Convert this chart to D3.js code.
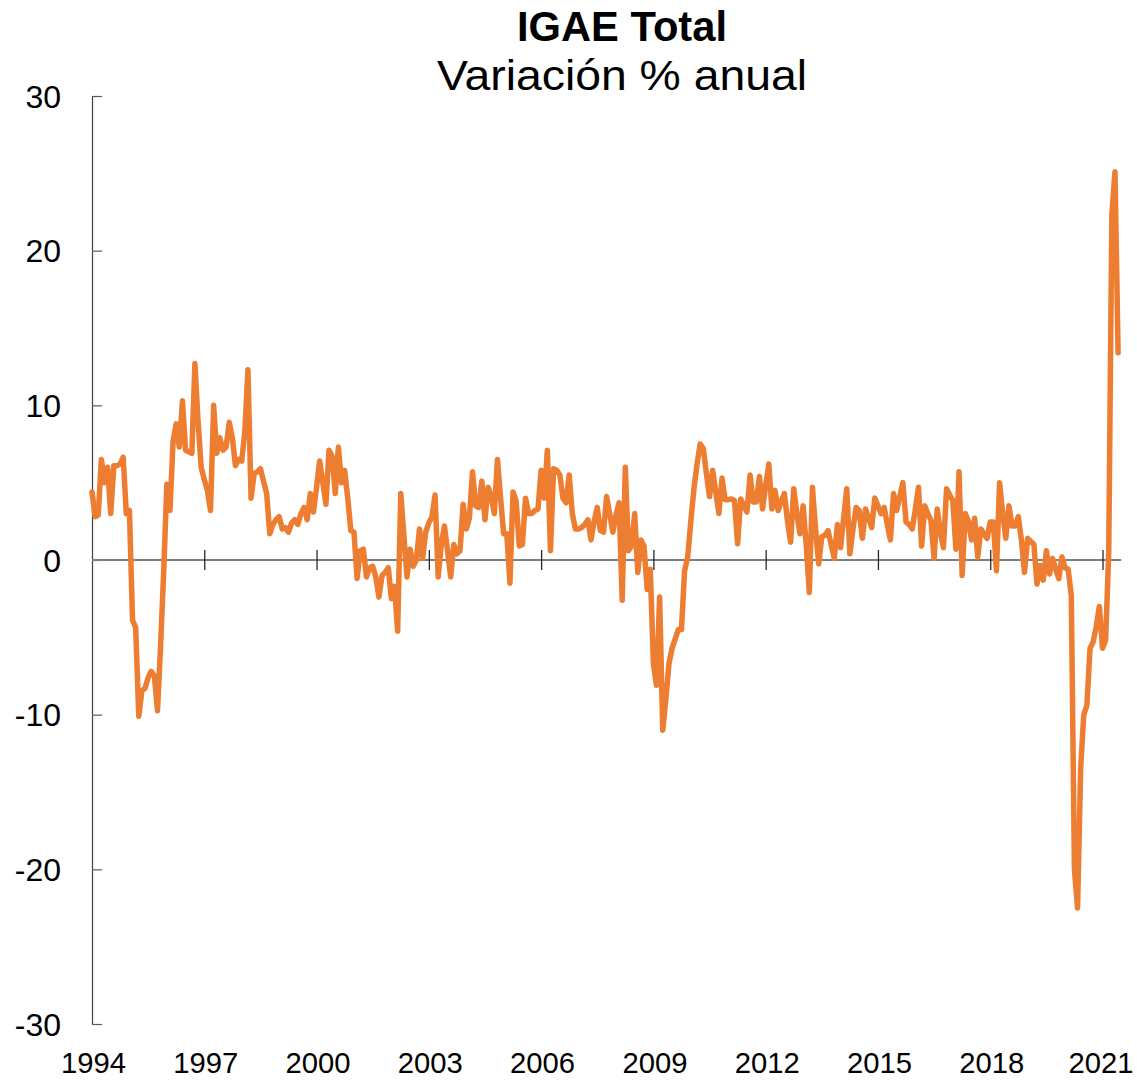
<!DOCTYPE html>
<html>
<head>
<meta charset="utf-8">
<script src="https://cdn.jsdelivr.net/npm/d3@7"></script>
<style>
  body { margin: 0; background: #fff; }
  svg text { font-family: "Liberation Sans", Arial, sans-serif; fill: #000; }
</style>
</head>
<body>
<div id="chart"></div>
<script>
// Data: IGAE, variación % anual, mensual desde enero 1994
const startYear = 1994;
const values1994_1999 = [
  4.4, 2.8, 2.9, 6.5, 5.0, 6.0, 3.0, 6.1, 6.1, 6.2, 6.65, 3.0,
  3.2, -3.9, -4.35, -10.1, -8.45, -8.3, -7.6, -7.2, -7.5, -9.75, -5.5, -0.7,
  4.9, 3.2, 7.7, 8.8, 7.3, 10.3, 7.1, 7.0, 6.9, 12.7, 9.0, 6.0,
  5.2, 4.5, 3.2, 10.0, 6.9, 7.9, 7.1, 7.3, 8.9, 7.9, 6.1, 6.5,
  6.4, 8.3, 12.3, 4.0, 5.6, 5.7, 5.9, 5.1, 4.3, 1.7, 2.3, 2.6,
  2.8, 2.0, 2.1, 1.8, 2.4, 2.6, 2.3, 3.0, 3.4, 2.6, 4.3, 3.1,
];
const values2000_2005 = [
  4.7, 6.4, 5.0, 3.6, 7.1, 6.7, 4.3, 7.3, 5.0, 5.8, 4.0, 1.9,
  1.8, -1.2, 0.6, 0.7, -1.1, -0.5, -0.4, -1.1, -2.4, -1.0, -0.8, -0.5,
  -2.5, -1.7, -4.6, 4.3, 1.6, -1.1, 0.7, -0.4, 0.0, 2.0, 0.1, 1.8,
  2.4, 2.8, 4.2, -1.1, 1.0, 2.2, 0.6, -1.1, 1.0, 0.4, 0.6, 3.6,
  2.0, 2.7, 5.7, 3.5, 3.4, 5.1, 2.6, 4.7, 4.1, 3.0, 6.5, 4.0,
  1.7, 1.7, -1.5, 4.4, 3.8, 0.9, 1.0, 4.0, 3.0, 3.0, 3.2, 3.3,
];
const values2006_2011 = [
  5.8, 4.0, 7.1, 0.6, 5.9, 5.8, 5.5, 4.0, 3.7, 5.5, 3.0, 2.0,
  2.0, 2.1, 2.3, 2.6, 1.3, 2.5, 3.4, 1.9, 1.8, 4.1, 3.0, 1.8,
  2.9, 3.7, -2.6, 6.0, 0.6, 0.9, 3.0, -0.8, 1.3, 0.9, -1.9, -0.6,
  -6.7, -8.1, -2.4, -11.0, -9.0, -6.7, -5.7, -5.1, -4.5, -4.5, -0.7, 0.2,
  2.5, 4.6, 6.2, 7.5, 7.2, 5.6, 4.1, 5.8, 4.4, 3.0, 5.3, 3.9,
  3.9, 3.95, 3.85, 1.05, 3.95, 3.5, 3.1, 5.5, 3.75, 3.75, 5.4, 3.3,
];
const values2012_2017 = [
  4.8, 6.2, 3.3, 4.5, 3.2, 3.8, 4.3, 2.5, 1.15, 4.6, 3.0, 1.7,
  3.5, 1.0, -2.1, 4.7, 2.0, -0.25, 1.5, 1.6, 1.9, 1.0, 0.1, 2.3,
  0.8, 2.7, 4.6, 0.4, 2.0, 3.4, 3.2, 1.4, 3.3, 2.7, 2.1, 4.0,
  3.5, 3.0, 3.4, 2.3, 1.3, 4.3, 3.2, 4.1, 5.0, 2.45, 2.3, 2.0,
  3.3, 4.7, 0.9, 3.5, 3.0, 2.55, 0.1, 3.3, 1.8, 0.8, 4.6, 4.2,
  3.85, 0.7, 5.7, -1.0, 3.0, 2.5, 1.3, 2.7, 0.2, 2.0, 1.7, 1.4,
];
const values2018_2021 = [
  2.45, 2.45, -0.7, 5.0, 3.0, 1.4, 3.5, 2.2, 2.2, 2.8, 1.3, -0.8,
  1.4, 1.2, 1.0, -1.55, -0.35, -1.3, 0.6, -0.9, 0.1, -0.6, -1.2, 0.2,
  -0.5, -0.6, -2.3, -20.0, -22.5, -13.5, -10.0, -9.4, -5.7, -5.3, -4.3, -3.0,
  -5.7, -5.2, 0.5, 22.3, 25.1, 13.4,
];

const xTickYears = [1994, 1997, 2000, 2003, 2006, 2009, 2012, 2015, 2018, 2021];
const yTickValues = [-30, -20, -10, 0, 10, 20, 30];
const title = "IGAE Total";
const subtitle = "Variación % anual";

const data = [
  ...values1994_1999,
  ...values2000_2005,
  ...values2006_2011,
  ...values2012_2017,
  ...values2018_2021,
].map((v, i) => ({ t: startYear + i / 12, v }));

// Accessors
const xAccessor = (d) => d.t;
const yAccessor = (d) => d.v;

// Dimensions
const dimensions = {
  width: 1137,
  height: 1081,
};

const svg = d3
  .select("#chart")
  .append("svg")
  .attr("width", dimensions.width)
  .attr("height", dimensions.height);

// Scales
const xScale = d3.scaleLinear().domain([1994, 2021]).range([92, 1102.5]);
const yScale = d3.scaleLinear().domain([-30, 30]).range([1024, 96]);

// Title
svg
  .append("text")
  .attr("x", 622)
  .attr("y", 41)
  .attr("text-anchor", "middle")
  .attr("font-size", 42)
  .attr("font-weight", "bold")
  .attr("textLength", 210)
  .attr("lengthAdjust", "spacingAndGlyphs")
  .text(title);

svg
  .append("text")
  .attr("x", 622)
  .attr("y", 90)
  .attr("text-anchor", "middle")
  .attr("font-size", 42)
  .attr("textLength", 370)
  .attr("lengthAdjust", "spacingAndGlyphs")
  .text(subtitle);

// Y axis (plain hyphen for negatives, as in the original)
const yAxis = d3
  .axisLeft(yScale)
  .tickValues(yTickValues)
  .tickFormat((d) => String(d))
  .tickSizeInner(-10)
  .tickSizeOuter(0)
  .tickPadding(31);

const yAxisG = svg
  .append("g")
  .attr("transform", `translate(${xScale(1994)}, 0)`)
  .call(yAxis);
yAxisG.select(".domain").attr("stroke", "#404040").attr("stroke-width", 1.2);
yAxisG.selectAll(".tick line").attr("stroke", "#595959").attr("stroke-width", 1.2);
yAxisG
  .selectAll(".tick text")
  .attr("font-size", 32)
  .attr("font-family", "Liberation Sans, Arial, sans-serif")
  .attr("fill", "#000")
  .attr("dy", "0.35em");

// Zero line with cross ticks
const lastT = xAccessor(data[data.length - 1]);
svg
  .append("line")
  .attr("x1", xScale(1994))
  .attr("x2", xScale(lastT + 1 / 12))
  .attr("y1", yScale(0))
  .attr("y2", yScale(0))
  .attr("stroke", "#7f7f7f")
  .attr("stroke-width", 2);

const zeroAxisG = svg
  .append("g")
  .attr("transform", `translate(0, ${yScale(0)})`)
  .call(
    d3
      .axisBottom(xScale)
      .tickValues(xTickYears.slice(1))
      .tickFormat("")
      .tickSizeInner(10)
      .tickSizeOuter(0)
  );
zeroAxisG.select(".domain").remove();
zeroAxisG
  .selectAll(".tick line")
  .attr("y1", -10)
  .attr("stroke", "#262626")
  .attr("stroke-width", 1.3);

// Year labels at the bottom
const xLabelG = svg
  .append("g")
  .attr("transform", `translate(1, ${yScale(-30)})`)
  .call(
    d3
      .axisBottom(xScale)
      .tickValues(xTickYears)
      .tickFormat(d3.format("d"))
      .tickSize(0)
      .tickPadding(0)
  );
xLabelG.select(".domain").remove();
xLabelG
  .selectAll(".tick text")
  .attr("font-size", 30)
  .attr("font-family", "Liberation Sans, Arial, sans-serif")
  .attr("fill", "#000")
  .attr("dy", null)
  .attr("y", 49)
  .attr("x", (d) => (d === 2021 ? -3 : 0))
  .attr("textLength", 65)
  .attr("lengthAdjust", "spacingAndGlyphs");

// Line
const line = d3
  .line()
  .x((d) => xScale(xAccessor(d)))
  .y((d) => yScale(yAccessor(d)));

svg
  .append("path")
  .datum(data)
  .attr("fill", "none")
  .attr("stroke", "#ED7D31")
  .attr("stroke-width", 5.5)
  .attr("stroke-linejoin", "round")
  .attr("stroke-linecap", "round")
  .attr("d", line);
</script>
</body>
</html>
